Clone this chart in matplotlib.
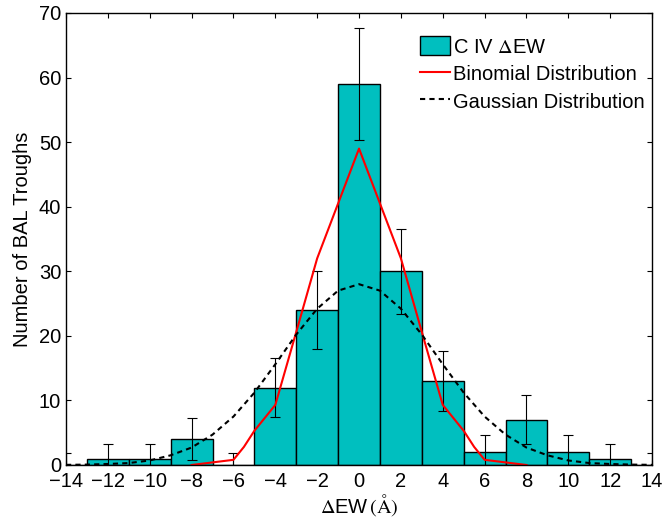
import numpy as np
import matplotlib
matplotlib.use('Agg')
import matplotlib.pyplot as plt

plt.rcParams['font.family'] = ['Liberation Sans', 'DejaVu Sans']
plt.rcParams['mathtext.fontset'] = 'stix'

# Histograma de Delta EW (centros dos bins)
centros = [-14, -12, -10, -8, -6, -4, -2, 0, 2, 4, 6, 8, 10, 12, 14]
contagens = [0, 1, 1, 4, 0, 12, 24, 59, 30, 13, 2, 7, 2, 1, 0]
erros = [1.9, 2.3, 2.3, 3.2, 1.9, 4.6, 6.0, 8.7, 6.6, 4.7, 2.7, 3.8, 2.7, 2.3, 1.9]

# Distribuicao binomial
x_bin = [-8, -6, -5.5, -5, -4, -3, -2, 0, 2, 3, 4, 5, 5.5, 6, 8]
y_bin = [0, 0.8, 2.8, 5.3, 9.3, 20.6, 32, 49, 32, 20.6, 9.3, 5.3, 2.8, 0.8, 0]

# Distribuicao gaussiana
x_gau = list(range(-14, 15))
y_gau = [0.02, 0.06, 0.15, 0.3, 0.7, 1.5, 2.7, 4.7, 7.5, 11.2, 15.6, 20.2, 24.2, 27.0, 28.0,
         27.0, 24.2, 20.2, 15.6, 11.2, 7.5, 4.7, 2.7, 1.5, 0.7, 0.3, 0.15, 0.06, 0.02]

fig = plt.figure(figsize=(6.62, 5.20), dpi=100)
ax = fig.add_axes([0.0997, 0.1058, 0.8853, 0.8692])

barras = ax.bar(centros, contagens, width=2, color='#00BFBF', edgecolor='k', linewidth=1,
                label=r'C IV $\Delta$EW', zorder=2)
ax.errorbar(centros, contagens, yerr=erros, fmt='none', ecolor='k', elinewidth=0.8,
            capsize=3.6, capthick=0.8, zorder=3)
l_bin, = ax.plot(x_bin, y_bin, color='r', lw=1.5, label='Binomial Distribution', zorder=4)
l_gau, = ax.plot(x_gau, y_gau, color='k', lw=1.5, dashes=(2.5, 2),
                 label='Gaussian Distribution', zorder=4)

ax.set_xlim(-14, 14)
ax.set_ylim(0, 70)
ax.set_xticks(np.arange(-14, 15, 2))
ax.set_yticks(np.arange(0, 71, 10))
ax.set_xticklabels([str(v).replace('-', '\u2212') for v in range(-14, 15, 2)])
ax.tick_params(direction='in', top=True, right=True, length=3.6, width=0.8, labelsize=14.5)
ax.tick_params(axis='x', pad=5)
for s in ax.spines.values():
    s.set_linewidth(1)
    s.set_zorder(5)

ax.set_ylabel('Number of BAL Troughs', fontsize=14.5, labelpad=5)
ax.set_xlabel(r'$\Delta$EW$\,(\mathrm{\AA})$', fontsize=14.5, labelpad=1)

ax.legend(handles=[barras, l_bin, l_gau], loc='upper left', bbox_to_anchor=(0.604, 0.949),
          frameon=False, fontsize=14.5, borderpad=0, borderaxespad=0, handlelength=1.5,
          handleheight=1.1, handletextpad=0.15, labelspacing=0.35)

plt.savefig('out.png', dpi=100)
